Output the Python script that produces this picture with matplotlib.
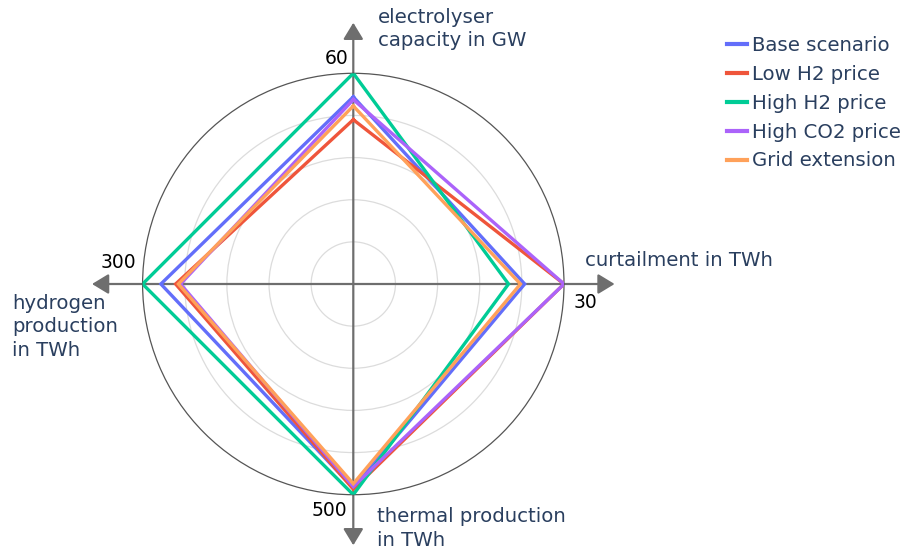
import numpy as np
import matplotlib
matplotlib.use("Agg")
import matplotlib.pyplot as plt
from matplotlib.lines import Line2D

# ---- data ----
axis_titles = ["electrolyser\ncapacity in GW", "curtailment in TWh",
               "thermal production\nin TWh", "hydrogen\nproduction\nin TWh"]
axis_max = [60, 30, 500, 300]
axis_max_labels = ["60", "30", "500", "300"]
scenarios = ["Base scenario", "Low H2 price", "High H2 price", "High CO2 price", "Grid extension"]
base_scenario = [53.3, 24.4, 484, 274]
low_h2_price = [46.8, 30, 487, 253]
high_h2_price = [60, 22.1, 500, 300]
high_co2_price = [52.5, 30, 481, 246]
grid_extension = [50.7, 23.8, 474, 249]
series = [base_scenario, low_h2_price, high_h2_price, high_co2_price, grid_extension]
colors = ["#636EFA", "#EF553B", "#00CC96", "#AB63FA", "#FFA15A"]

W, H = 907, 551
fig = plt.figure(figsize=(W / 100, H / 100), dpi=100)
cx, cy, R = 353.3, 284.0, 210.7
ax = fig.add_axes([(cx - R) / W, (H - cy - R) / H, 2 * R / W, 2 * R / H], projection="polar")
ax.set_theta_zero_location("N")
ax.set_theta_direction(-1)
ax.set_ylim(0, 1)

theta = np.deg2rad([0, 90, 180, 270])
for name, vals, c in zip(scenarios, series, colors):
    r = np.array(vals) / np.array(axis_max)
    t = np.append(theta, theta[0])
    r = np.append(r, r[0])
    ax.plot(t, r, color=c, lw=2.4, label=name, solid_joinstyle="miter", zorder=3)

ax.set_rgrids([0.2, 0.4, 0.6, 0.8], labels=[])
ax.yaxis.grid(True, color="#dcdcdc", lw=0.9)
ax.xaxis.grid(False)
ax.set_xticks([])
ax.spines["polar"].set_color("#555555")
ax.spines["polar"].set_linewidth(0.9)

# axis lines with arrows
for th in theta:
    ax.annotate("", xy=(th, 1.24), xytext=(th, 0), xycoords="data",
                arrowprops=dict(arrowstyle="-|>,head_length=0.56,head_width=0.34",
                                color="#6e6e6e", lw=1.6, shrinkA=0, shrinkB=0,
                                mutation_scale=18),
                annotation_clip=False, zorder=2)

# axis titles
tc = "#2a3f5f"
fs = 14.2
ls = 1.3
fig.text(378 / W, 1 - 8 / H, axis_titles[0], ha="left", va="top", fontsize=fs, color=tc, linespacing=ls)
fig.text(585 / W, 1 - 261 / H, axis_titles[1], ha="left", va="center", fontsize=fs, color=tc)
fig.text(377 / W, 1 - 507 / H, axis_titles[2], ha="left", va="top", fontsize=fs, color=tc, linespacing=ls)
fig.text(12 / W, 1 - 294 / H, axis_titles[3], ha="left", va="top", fontsize=fs, color=tc, linespacing=ls)

# max labels
fs2 = 13.5
fig.text(348 / W, 1 - 59 / H, axis_max_labels[0], ha="right", va="center", fontsize=fs2, color="black")
fig.text(574 / W, 1 - 302 / H, axis_max_labels[1], ha="left", va="center", fontsize=fs2, color="black")
fig.text(347 / W, 1 - 510 / H, axis_max_labels[2], ha="right", va="center", fontsize=fs2, color="black")
fig.text(136 / W, 1 - 262 / H, axis_max_labels[3], ha="right", va="center", fontsize=fs2, color="black")

handles = [Line2D([0], [0], color=c, lw=3) for c in colors]
leg = fig.legend(handles, scenarios, loc="upper left", bbox_to_anchor=(727 / W, 1 - 36 / H),
                 frameon=False, fontsize=fs, handlelength=1.0, handletextpad=0.25,
                 labelspacing=0.5, borderpad=0, borderaxespad=0)
for t in leg.get_texts():
    t.set_color(tc)

fig.savefig("out.png", dpi=100)
